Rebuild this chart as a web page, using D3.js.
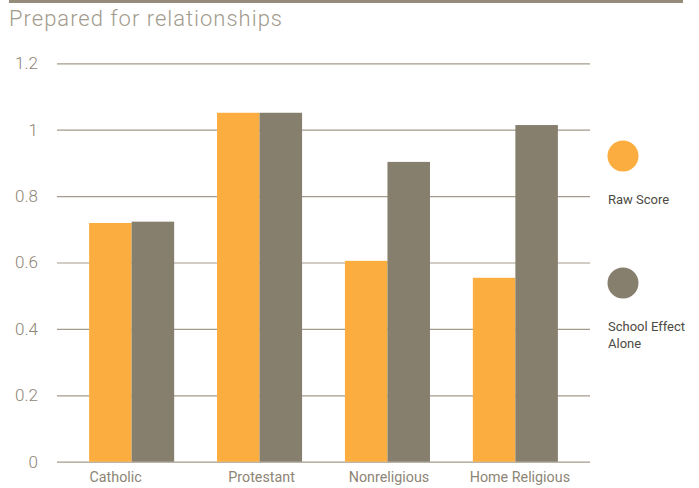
<!DOCTYPE html>
<html>
<head>
<meta charset="utf-8">
<script src="https://cdn.jsdelivr.net/npm/d3@7"></script>
<style>
  html, body { margin: 0; padding: 0; background: #fff; }
  svg { display: block; font-family: Roboto, "Noto Sans", sans-serif; }
</style>
</head>
<body>
<svg id="chart" width="699" height="488"></svg>
<script>
const categories = ["Catholic", "Protestant", "Nonreligious", "Home Religious"];
const seriesNames = ["Raw Score", "School Effect Alone"];
const rawScore = [0.719, 1.051, 0.605, 0.554];
const schoolEffect = [0.723, 1.051, 0.903, 1.014];
const yTicks = [0, 0.2, 0.4, 0.6, 0.8, 1, 1.2];
const colors = ["#fbae3f", "#877f6e"];
const title = "Prepared for relationships";

const svg = d3.select("#chart");
const mLeft = 57, mRight = 590, mTop = 63.3, mBottom = 461.7;

// top rule
svg.append("rect").attr("x", 9).attr("y", 0).attr("width", 674).attr("height", 3).attr("fill", "#948b7b");

svg.append("text").attr("x", 9).attr("y", 25.5)
  .attr("font-size", 22).attr("font-weight", 300).attr("letter-spacing", 1)
  .attr("fill", "#a29b8d")
  .text(title);

const y = d3.scaleLinear().domain([0, 1.2]).range([mBottom, mTop]);
const x = d3.scaleBand().domain(categories).range([mLeft, mRight])
  .paddingInner(0.335).paddingOuter(0.251);
const xs = d3.scaleBand().domain(seriesNames).range([0, x.bandwidth()]);

// gridlines + y labels
const yAxis = d3.axisLeft(y).tickValues(yTicks).tickSize(0).tickPadding(0)
  .tickFormat(d => d3.format("~g")(d));
const gy = svg.append("g").attr("transform", `translate(${mLeft},0)`).call(yAxis);
gy.select(".domain").remove();
gy.selectAll("text").attr("x", -19).attr("font-size", 17).attr("fill", "#8d8575")
  .attr("font-family", "Roboto, sans-serif").attr("font-weight", 300);
gy.selectAll(".tick").append("line")
  .attr("x1", 0).attr("x2", mRight - mLeft)
  .attr("stroke", "#a39b8b").attr("stroke-width", 1.2);

// bars
const data = categories.map((c, i) => ({cat: c, vals: [rawScore[i], schoolEffect[i]]}));
const groups = svg.append("g").selectAll("g").data(data).join("g")
  .attr("transform", d => `translate(${x(d.cat)},0)`);
groups.selectAll("rect").data(d => d.vals.map((v, j) => ({s: seriesNames[j], v, j})))
  .join("rect")
  .attr("x", d => xs(d.s))
  .attr("width", xs.bandwidth())
  .attr("y", d => y(d.v))
  .attr("height", d => y(0) - y(d.v))
  .attr("fill", d => colors[d.j]);

// x labels (small horizontal nudges as in the original layout)
const labelNudge = [-16, 2, 1.5, 4.5];
const xAxis = d3.axisBottom(x).tickSize(0).tickPadding(0);
const gx = svg.append("g").attr("transform", `translate(0,${mBottom})`).call(xAxis);
gx.select(".domain").remove();
gx.selectAll("text").attr("y", 10).attr("dy", "0.71em").attr("font-size", 14.3)
  .attr("x", (d, i) => labelNudge[i])
  .attr("fill", "#8d8575").attr("font-family", "Roboto, sans-serif");

// legend
const legend = [
  {name: seriesNames[0], lines: ["Raw Score"], cy: 156},
  {name: seriesNames[1], lines: ["School Effect", "Alone"], cy: 283}
];
const lg = svg.append("g").selectAll("g").data(legend).join("g");
lg.append("circle").attr("cx", 623).attr("cy", d => d.cy).attr("r", 15.5)
  .attr("fill", (d, i) => colors[i]);
lg.each(function(d) {
  const t = d3.select(this).append("text").attr("x", 608).attr("y", d.cy + 48)
    .attr("font-size", 13).attr("fill", "#4d4a44");
  d.lines.forEach((l, k) => t.append("tspan").attr("x", 608).attr("dy", k === 0 ? 0 : 16.5).text(l));
});
</script>
</body>
</html>
